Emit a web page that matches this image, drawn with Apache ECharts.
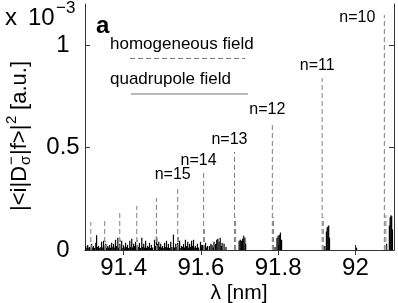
<!DOCTYPE html>
<html><head><meta charset="utf-8">
<script src="https://cdn.jsdelivr.net/npm/echarts@6/dist/echarts.min.js"></script>
<style>html,body{margin:0;padding:0;background:#fff}#c{width:398px;height:303px}</style>
</head><body><div id="c"></div>
<script>
// Homogeneous field (dashed) lines: wavelength [nm], intensity [x10^-3 a.u.]
const homX = [92.075, 91.914, 91.785, 91.687, 91.607, 91.540, 91.485, 91.434, 91.390, 91.351, 91.315];
const homY = [1.146, 0.839, 0.624, 0.478, 0.380, 0.307, 0.254, 0.215, 0.185, 0.146, 0.137];
const homLabels = ['n=10', 'n=11', 'n=12', 'n=13', 'n=14', 'n=15', '', '', '', '', ''];
// secondary short homogeneous lines
const hom2X = [92.079, 91.917, 91.788, 91.690, 91.609, 91.542, 91.487, 91.436, 91.392, 91.353, 91.317];
const hom2Y = [0.17, 0.16, 0.16, 0.16, 0.107, 0.073, 0.06, 0.05, 0.05, 0.045, 0.04];
// Quadrupole field (solid) lines
const quadX = [
 91.302,91.305,91.307,91.310,91.312,91.315,91.317,91.320,91.322,91.325,91.328,91.330,91.333,91.335,91.338,91.341,
 91.343,91.346,91.348,91.351,91.354,91.356,91.359,91.361,91.364,91.366,91.369,91.372,91.374,91.377,91.379,91.382,
 91.385,91.387,91.390,91.392,91.395,91.398,91.400,91.403,91.405,91.408,91.410,91.413,91.416,91.418,91.421,91.423,
 91.426,91.428,91.431,91.434,91.436,91.439,91.441,91.444,91.447,91.449,91.452,91.454,91.457,91.459,91.462,91.465,
 91.467,91.470,91.472,91.475,91.480,91.483,91.485,91.488,91.491,91.493,91.496,91.498,91.501,91.504,91.506,91.509,
 91.511,91.514,91.516,91.519,91.522,91.525,91.529,91.532,91.535,91.538,91.540,91.543,91.545,91.548,91.550,91.553,
 91.555,91.558,91.560,91.563,91.566,91.568,91.571,91.573,91.576,91.578,91.581,91.584,91.586,91.589,91.591,91.594,
 91.599,91.602,91.604,91.609,91.612,91.614,91.617,91.622,91.626,91.629,91.632,91.634,91.638,91.641,91.644,91.647,
 91.650,91.653,91.655,91.660,91.665,
 91.699,91.702,91.705,91.708,91.711,91.714,91.716,
 91.792,91.797,91.800,91.803,91.806,91.809,
 91.921,91.925,91.927,91.929,91.931,91.933,
 92.003,
 92.081,92.088,92.090,92.092,92.094,92.096
];
const quadY = [
 0.020,0.010,0.025,0.012,0.015,0.010,0.030,0.012,0.020,0.010,0.035,0.072,0.015,0.020,0.010,0.015,
 0.040,0.012,0.045,0.015,0.030,0.010,0.020,0.012,0.025,0.010,0.035,0.015,0.030,0.012,0.050,0.020,
 0.060,0.012,0.030,0.015,0.045,0.010,0.020,0.012,0.035,0.015,0.025,0.010,0.045,0.015,0.055,0.012,
 0.030,0.020,0.040,0.012,0.025,0.015,0.035,0.010,0.060,0.015,0.030,0.012,0.045,0.010,0.020,0.015,
 0.035,0.010,0.025,0.012,0.050,0.020,0.065,0.030,0.040,0.015,0.030,0.012,0.020,0.010,0.035,0.015,
 0.045,0.012,0.030,0.010,0.040,0.015,0.075,0.012,0.030,0.015,0.035,0.012,0.045,0.010,0.020,0.015,
 0.030,0.012,0.050,0.020,0.040,0.012,0.030,0.015,0.045,0.020,0.050,0.012,0.020,0.010,0.030,0.012,
 0.040,0.015,0.025,0.020,0.035,0.012,0.020,0.020,0.030,0.025,0.012,0.040,0.030,0.050,0.055,0.040,
 0.060,0.020,0.035,0.030,0.015,
 0.045,0.050,0.045,0.055,0.070,0.060,0.030,
 0.015,0.060,0.070,0.075,0.085,0.050,
 0.020,0.090,0.110,0.115,0.120,0.060,
 0.012,
 0.030,0.120,0.160,0.170,0.165,0.100
];
const xTicks = [91.4, 91.6, 91.8, 92];
const yTicks = [0, 0.5, 1];

const FONT = '"Liberation Sans", Arial, Helvetica, sans-serif';
const chart = echarts.init(document.getElementById('c'), null, {renderer: 'canvas'});

function dashedItem(params, api) {
  const x = api.value(0), h = api.value(1);
  const p0 = api.coord([x, 0]), p1 = api.coord([x, h]);
  return {type: 'line', shape: {x1: p0[0], y1: p0[1], x2: p1[0], y2: p1[1]},
    style: {stroke: '#808080', lineWidth: 1, lineDash: [5, 3]}};
}
function solidItem(params, api) {
  const x = api.value(0), h = api.value(1);
  const p0 = api.coord([x, 0]), p1 = api.coord([x, h]);
  return {type: 'line', shape: {x1: p0[0], y1: p0[1], x2: p1[0], y2: p1[1]},
    style: {stroke: '#000', lineWidth: 1.2}};
}
function labelItem(params, api) {
  const label = homLabels[params.dataIndex];
  if (!label) return null;
  const top = api.coord([api.value(0), api.value(1)]);
  const rightEdge = params.coordSys.x + params.coordSys.width;
  let x = top[0] - 5, y = top[1] - 12, align = 'center';
  if (x + 20 > rightEdge) { x = top[0] - 9; y = top[1] + 3; align = 'right'; }
  return {type: 'text', style: {text: label, x: x, y: y, align: align, verticalAlign: 'middle',
    textAlign: align, textVerticalAlign: 'middle', font: '16px ' + FONT, fill: '#000'}};
}

const fmt = v => String(parseFloat(Number(v).toFixed(2)));

const option = {
  animation: false,
  backgroundColor: '#fff',
  grid: {left: 85, right: 4, top: 4, bottom: 53},
  xAxis: [
    {type: 'value', min: 91.3, max: 92.1, position: 'bottom',
     axisLine: {show: true, lineStyle: {color: '#333', width: 1}},
     axisTick: {show: true, inside: true, length: 5, customValues: xTicks, lineStyle: {color: '#333'}},
     axisLabel: {show: true, customValues: xTicks, formatter: fmt, fontSize: 24, fontFamily: FONT, color: '#000', margin: 6},
     splitLine: {show: false}},
    {type: 'value', min: 91.3, max: 92.1, position: 'top',
     axisLine: {show: true, lineStyle: {color: '#333', width: 1}},
     axisTick: {show: true, inside: true, length: 5, customValues: xTicks, lineStyle: {color: '#333'}},
     axisLabel: {show: false}, splitLine: {show: false}}
  ],
  yAxis: [
    {type: 'value', min: 0, max: 1.2, position: 'left',
     axisLine: {show: true, lineStyle: {color: '#333', width: 1}},
     axisTick: {show: true, inside: true, length: 5, customValues: yTicks, lineStyle: {color: '#333'}},
     axisLabel: {show: true, customValues: yTicks, formatter: fmt, fontSize: 24, fontFamily: FONT, color: '#000', margin: 22, align: 'center'},
     splitLine: {show: false}},
    {type: 'value', min: 0, max: 1.2, position: 'right',
     axisLine: {show: true, lineStyle: {color: '#333', width: 1}},
     axisTick: {show: true, inside: true, length: 5, customValues: yTicks, lineStyle: {color: '#333'}},
     axisLabel: {show: false}, splitLine: {show: false}}
  ],
  series: [
    {type: 'custom', name: 'quadrupole field', renderItem: solidItem, clip: true,
     data: quadX.map((x, i) => [x, quadY[i]]), z: 2},
    {type: 'custom', name: 'homogeneous field 2', renderItem: dashedItem, clip: true,
     data: hom2X.map((x, i) => [x, hom2Y[i]]), z: 3},
    {type: 'custom', name: 'homogeneous field', renderItem: dashedItem, clip: true,
     data: homX.map((x, i) => [x, homY[i]]), z: 3},
    {type: 'custom', name: 'labels', renderItem: labelItem, clip: false,
     data: homX.map((x, i) => [x, homY[i]]), z: 4}
  ],
  graphic: [
    // exponent
    {type: 'text', left: 5, top: 6, style: {text: 'x', font: '24px ' + FONT, fill: '#000'}},
    {type: 'text', left: 28, top: 6, style: {text: '10', font: '24px ' + FONT, fill: '#000'}},
    {type: 'text', left: 56, top: 0, style: {text: '\u22123', font: '17px ' + FONT, fill: '#000'}},
    // panel letter
    {type: 'text', left: 96, top: 14, style: {text: 'a', font: 'bold 24px ' + FONT, fill: '#000'}},
    // legend
    {type: 'text', left: 110, top: 36, style: {text: 'homogeneous field', font: '17px ' + FONT, fill: '#000'}},
    {type: 'line', shape: {x1: 130, y1: 58.5, x2: 245, y2: 58.5}, style: {stroke: '#808080', lineWidth: 1, lineDash: [5, 3]}},
    {type: 'text', left: 110, top: 71, style: {text: 'quadrupole field', font: '17px ' + FONT, fill: '#000'}},
    {type: 'line', shape: {x1: 131, y1: 94, x2: 248, y2: 94}, style: {stroke: '#a0a0a0', lineWidth: 1.5}},
    // x axis title
    {type: 'text', x: 239, y: 293, style: {text: '\u03bb [nm]', font: '21px ' + FONT, fill: '#000',
      align: 'center', verticalAlign: 'middle', textAlign: 'center', textVerticalAlign: 'middle'}},
    // y axis title (rotated)
    {type: 'group', x: 20, y: 211, rotation: Math.PI / 2, children: [
      {type: 'text', x: 0, y: 0, style: {text: '|<i|D', font: '22px ' + FONT, fill: '#000', align: 'left', verticalAlign: 'middle', textAlign: 'left', textVerticalAlign: 'middle'}},
      {type: 'text', x: 46, y: 6, style: {text: '\u03c3', font: '15px ' + FONT, fill: '#000', align: 'left', verticalAlign: 'middle', textAlign: 'left', textVerticalAlign: 'middle'}},
      {type: 'text', x: 46, y: -8, style: {text: '\u2212', font: '15px ' + FONT, fill: '#000', align: 'left', verticalAlign: 'middle', textAlign: 'left', textVerticalAlign: 'middle'}},
      {type: 'text', x: 56, y: 0, style: {text: '|f>|', font: '22px ' + FONT, fill: '#000', align: 'left', verticalAlign: 'middle', textAlign: 'left', textVerticalAlign: 'middle'}},
      {type: 'text', x: 87, y: -8, style: {text: '2', font: '15px ' + FONT, fill: '#000', align: 'left', verticalAlign: 'middle', textAlign: 'left', textVerticalAlign: 'middle'}},
      {type: 'text', x: 95, y: 0, style: {text: ' [a.u.]', font: '22px ' + FONT, fill: '#000', align: 'left', verticalAlign: 'middle', textAlign: 'left', textVerticalAlign: 'middle'}}
    ]}
  ]
};
chart.setOption(option);
</script>
</body></html>
